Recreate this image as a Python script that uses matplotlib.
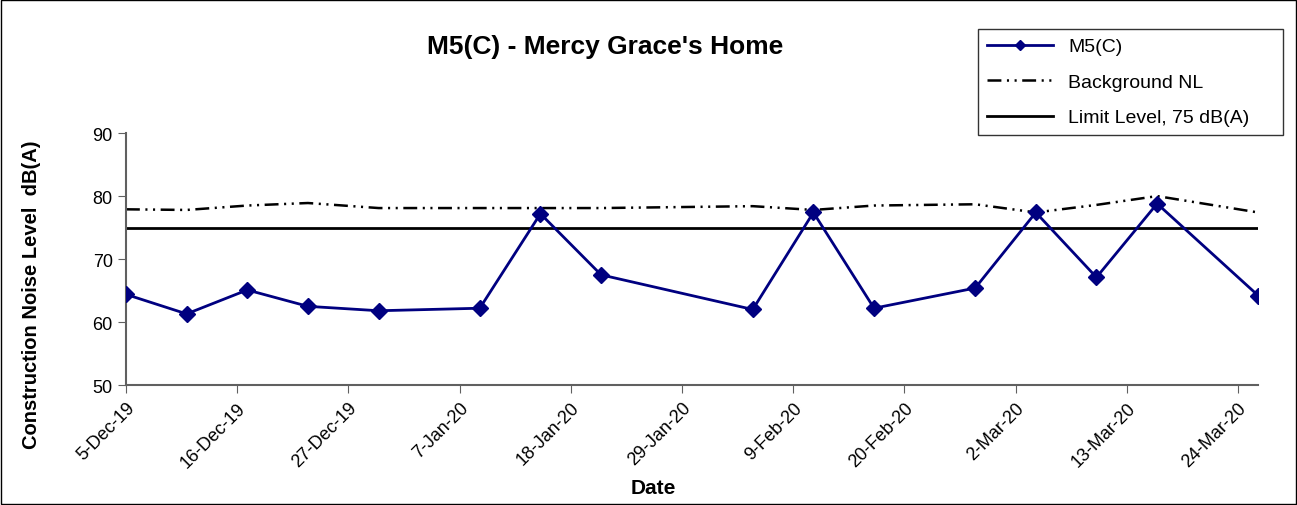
import datetime as dt
import matplotlib
matplotlib.use("Agg")
import matplotlib.pyplot as plt
import matplotlib.dates as mdates
from matplotlib.patches import Rectangle

plt.rcParams["font.family"] = ["Liberation Sans", "DejaVu Sans"]
plt.rcParams["lines.scale_dashes"] = False

# data
dates = ["2019-12-05", "2019-12-11", "2019-12-17", "2019-12-23", "2019-12-30",
         "2020-01-09", "2020-01-15", "2020-01-21", "2020-02-05", "2020-02-11",
         "2020-02-17", "2020-02-27", "2020-03-04", "2020-03-10", "2020-03-16",
         "2020-03-26"]
m5c = [64.4, 61.3, 65.1, 62.5, 61.8, 62.2, 77.2, 67.5, 62.0, 77.4,
       62.2, 65.4, 77.4, 67.1, 78.8, 64.2]
background = [77.9, 77.8, 78.5, 78.9, 78.1, 78.1, 78.1, 78.1, 78.4, 77.8,
              78.5, 78.7, 77.4, 78.6, 80.0, 77.4]
limit_level = 75
tick_dates = ["2019-12-05", "2019-12-16", "2019-12-27", "2020-01-07", "2020-01-18",
              "2020-01-29", "2020-02-09", "2020-02-20", "2020-03-02", "2020-03-13",
              "2020-03-24"]

x = [dt.datetime.strptime(d, "%Y-%m-%d") for d in dates]
xt = [dt.datetime.strptime(d, "%Y-%m-%d") for d in tick_dates]

fig = plt.figure(figsize=(12.97, 5.06), dpi=100)
ax = fig.add_axes([0.0971, 0.237, 0.873, 0.498])

ax.plot(x, m5c, color="#000080", lw=2.0, marker="D", markersize=8,
        label="M5(C)", zorder=3)
ax.plot(x, background, color="black", lw=1.8, dashes=[10, 4, 1.5, 4, 1.5, 4],
        label="Background NL", zorder=2)
ax.plot([x[0], x[-1]], [limit_level, limit_level], color="black", lw=2.0,
        label="Limit Level, 75 dB(A)", zorder=2)

ax.set_xlim(x[0], x[-1])
ax.set_ylim(50, 90)
ax.set_yticks([50, 60, 70, 80, 90])
ax.set_xticks(xt)
ax.xaxis.set_major_formatter(
    matplotlib.ticker.FuncFormatter(lambda v, p: "{}-{}".format(
        mdates.num2date(v).day, mdates.num2date(v).strftime("%b-%y"))))
plt.setp(ax.get_xticklabels(), rotation=45, ha="right", rotation_mode="anchor")
ax.tick_params(axis="both", labelsize=13, direction="out", length=6, color="#606060")
ax.tick_params(axis="x", pad=4)

for s in ["top", "right"]:
    ax.spines[s].set_visible(False)
for s in ["left", "bottom"]:
    ax.spines[s].set_color("#606060")
    ax.spines[s].set_linewidth(1.5)

fig.text(653 / 1297, 1 - 489 / 506, "Date", fontsize=15, fontweight="bold",
         ha="center", va="center")
fig.text(32 / 1297, 1 - 295 / 506, "Construction Noise Level  dB(A)", fontsize=14.5,
         fontweight="bold", rotation=90, ha="center", va="center")

fig.text(605 / 1297, 1 - 47 / 506, "M5(C) - Mercy Grace's Home", fontsize=19,
         fontweight="bold", ha="center", va="center")

# legend box spans the same area as in the original
leg = fig.legend(loc="upper left",
                 bbox_to_anchor=(978 / 1297, 1 - 134 / 506, 305 / 1297, 104 / 506),
                 mode="expand", fontsize=14, frameon=True, fancybox=False,
                 edgecolor="black", handlelength=3.4, labelspacing=0.92,
                 borderpad=0.45, markerscale=0.7, borderaxespad=0)
leg.get_frame().set_linewidth(1.0)

fig.patches.append(Rectangle((0.001, 0.001), 0.998, 0.998, transform=fig.transFigure,
                             fill=False, edgecolor="black", lw=1.0))

fig.savefig("out.png", dpi=100)
